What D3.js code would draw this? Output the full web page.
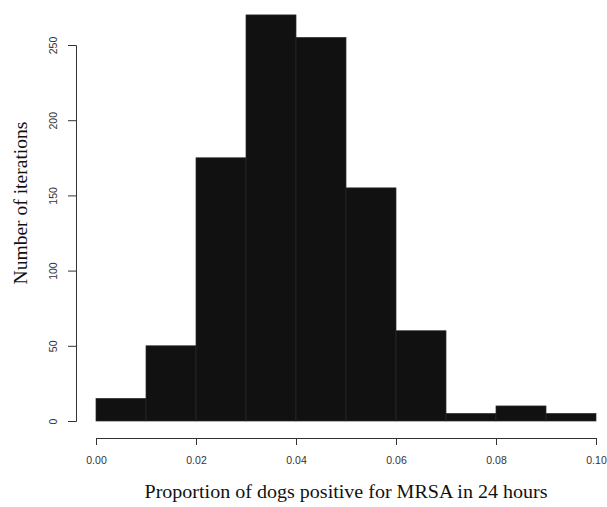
<!DOCTYPE html>
<html>
<head>
<meta charset="utf-8">
<script src="https://cdn.jsdelivr.net/npm/d3@7"></script>
<style>
html,body{margin:0;padding:0;background:#fff;}
</style>
</head>
<body>
<svg id="chart" width="607" height="507"></svg>
<script>
const binStarts = [0.00, 0.01, 0.02, 0.03, 0.04, 0.05, 0.06, 0.07, 0.08, 0.09];
const binWidth = 0.01;
const counts = [15, 50, 175, 270, 255, 155, 60, 5, 10, 5];
const xTicks = [0.00, 0.02, 0.04, 0.06, 0.08, 0.10];
const yTicks = [0, 50, 100, 150, 200, 250];
const xTitle = "Proportion of dogs positive for MRSA in 24 hours";
const yTitle = "Number of iterations";

const svg = d3.select("#chart");
const x = d3.scaleLinear().domain([0, 0.1]).range([96, 596]);
const y = d3.scaleLinear().domain([0, 250]).range([421, 45]);

svg.append("g").selectAll("rect")
  .data(binStarts)
  .join("rect")
  .attr("x", (d) => x(d))
  .attr("y", (d, i) => y(counts[i]))
  .attr("width", (d) => x(d + binWidth) - x(d))
  .attr("height", (d, i) => y(0) - y(counts[i]))
  .attr("fill", "#111111")
  .attr("stroke", "#2a2a2a")
  .attr("stroke-width", 0.7);

const xAxis = svg.append("g")
  .attr("transform", "translate(0,438)")
  .call(d3.axisBottom(x).tickValues(xTicks).tickFormat(d3.format(".2f")).tickSize(7).tickPadding(12));
xAxis.select(".domain").attr("stroke", "#333");
xAxis.selectAll(".tick line").attr("stroke", "#333");
xAxis.selectAll("text").attr("font-family", "Liberation Sans, Arial, sans-serif").attr("font-size", 10.5).attr("fill", "#333");

const yAxis = svg.append("g")
  .attr("transform", "translate(76,0)")
  .call(d3.axisLeft(y).tickValues(yTicks).tickSize(8).tickPadding(10));
yAxis.select(".domain").attr("stroke", "#333");
yAxis.selectAll(".tick line").attr("stroke", "#333");
yAxis.selectAll(".tick text")
  .attr("font-family", "Liberation Sans, Arial, sans-serif").attr("font-size", 10.5).attr("fill", "#333")
  .attr("text-anchor", "middle")
  .attr("transform", "translate(-23,0) rotate(-90)")
  .attr("x", 0).attr("y", 0).attr("dy", "0.35em");

svg.append("text")
  .attr("x", 346).attr("y", 498)
  .attr("text-anchor", "middle")
  .attr("font-family", "Liberation Serif, Times New Roman, serif")
  .attr("font-size", 19.5)
  .attr("textLength", 403)
  .attr("lengthAdjust", "spacingAndGlyphs")
  .attr("fill", "#111")
  .text(xTitle);

svg.append("text")
  .attr("transform", "translate(27,203) rotate(-90)")
  .attr("text-anchor", "middle")
  .attr("font-family", "Liberation Serif, Times New Roman, serif")
  .attr("font-size", 19.5)
  .attr("textLength", 163)
  .attr("lengthAdjust", "spacingAndGlyphs")
  .attr("fill", "#111")
  .text(yTitle);
</script>
</body>
</html>
